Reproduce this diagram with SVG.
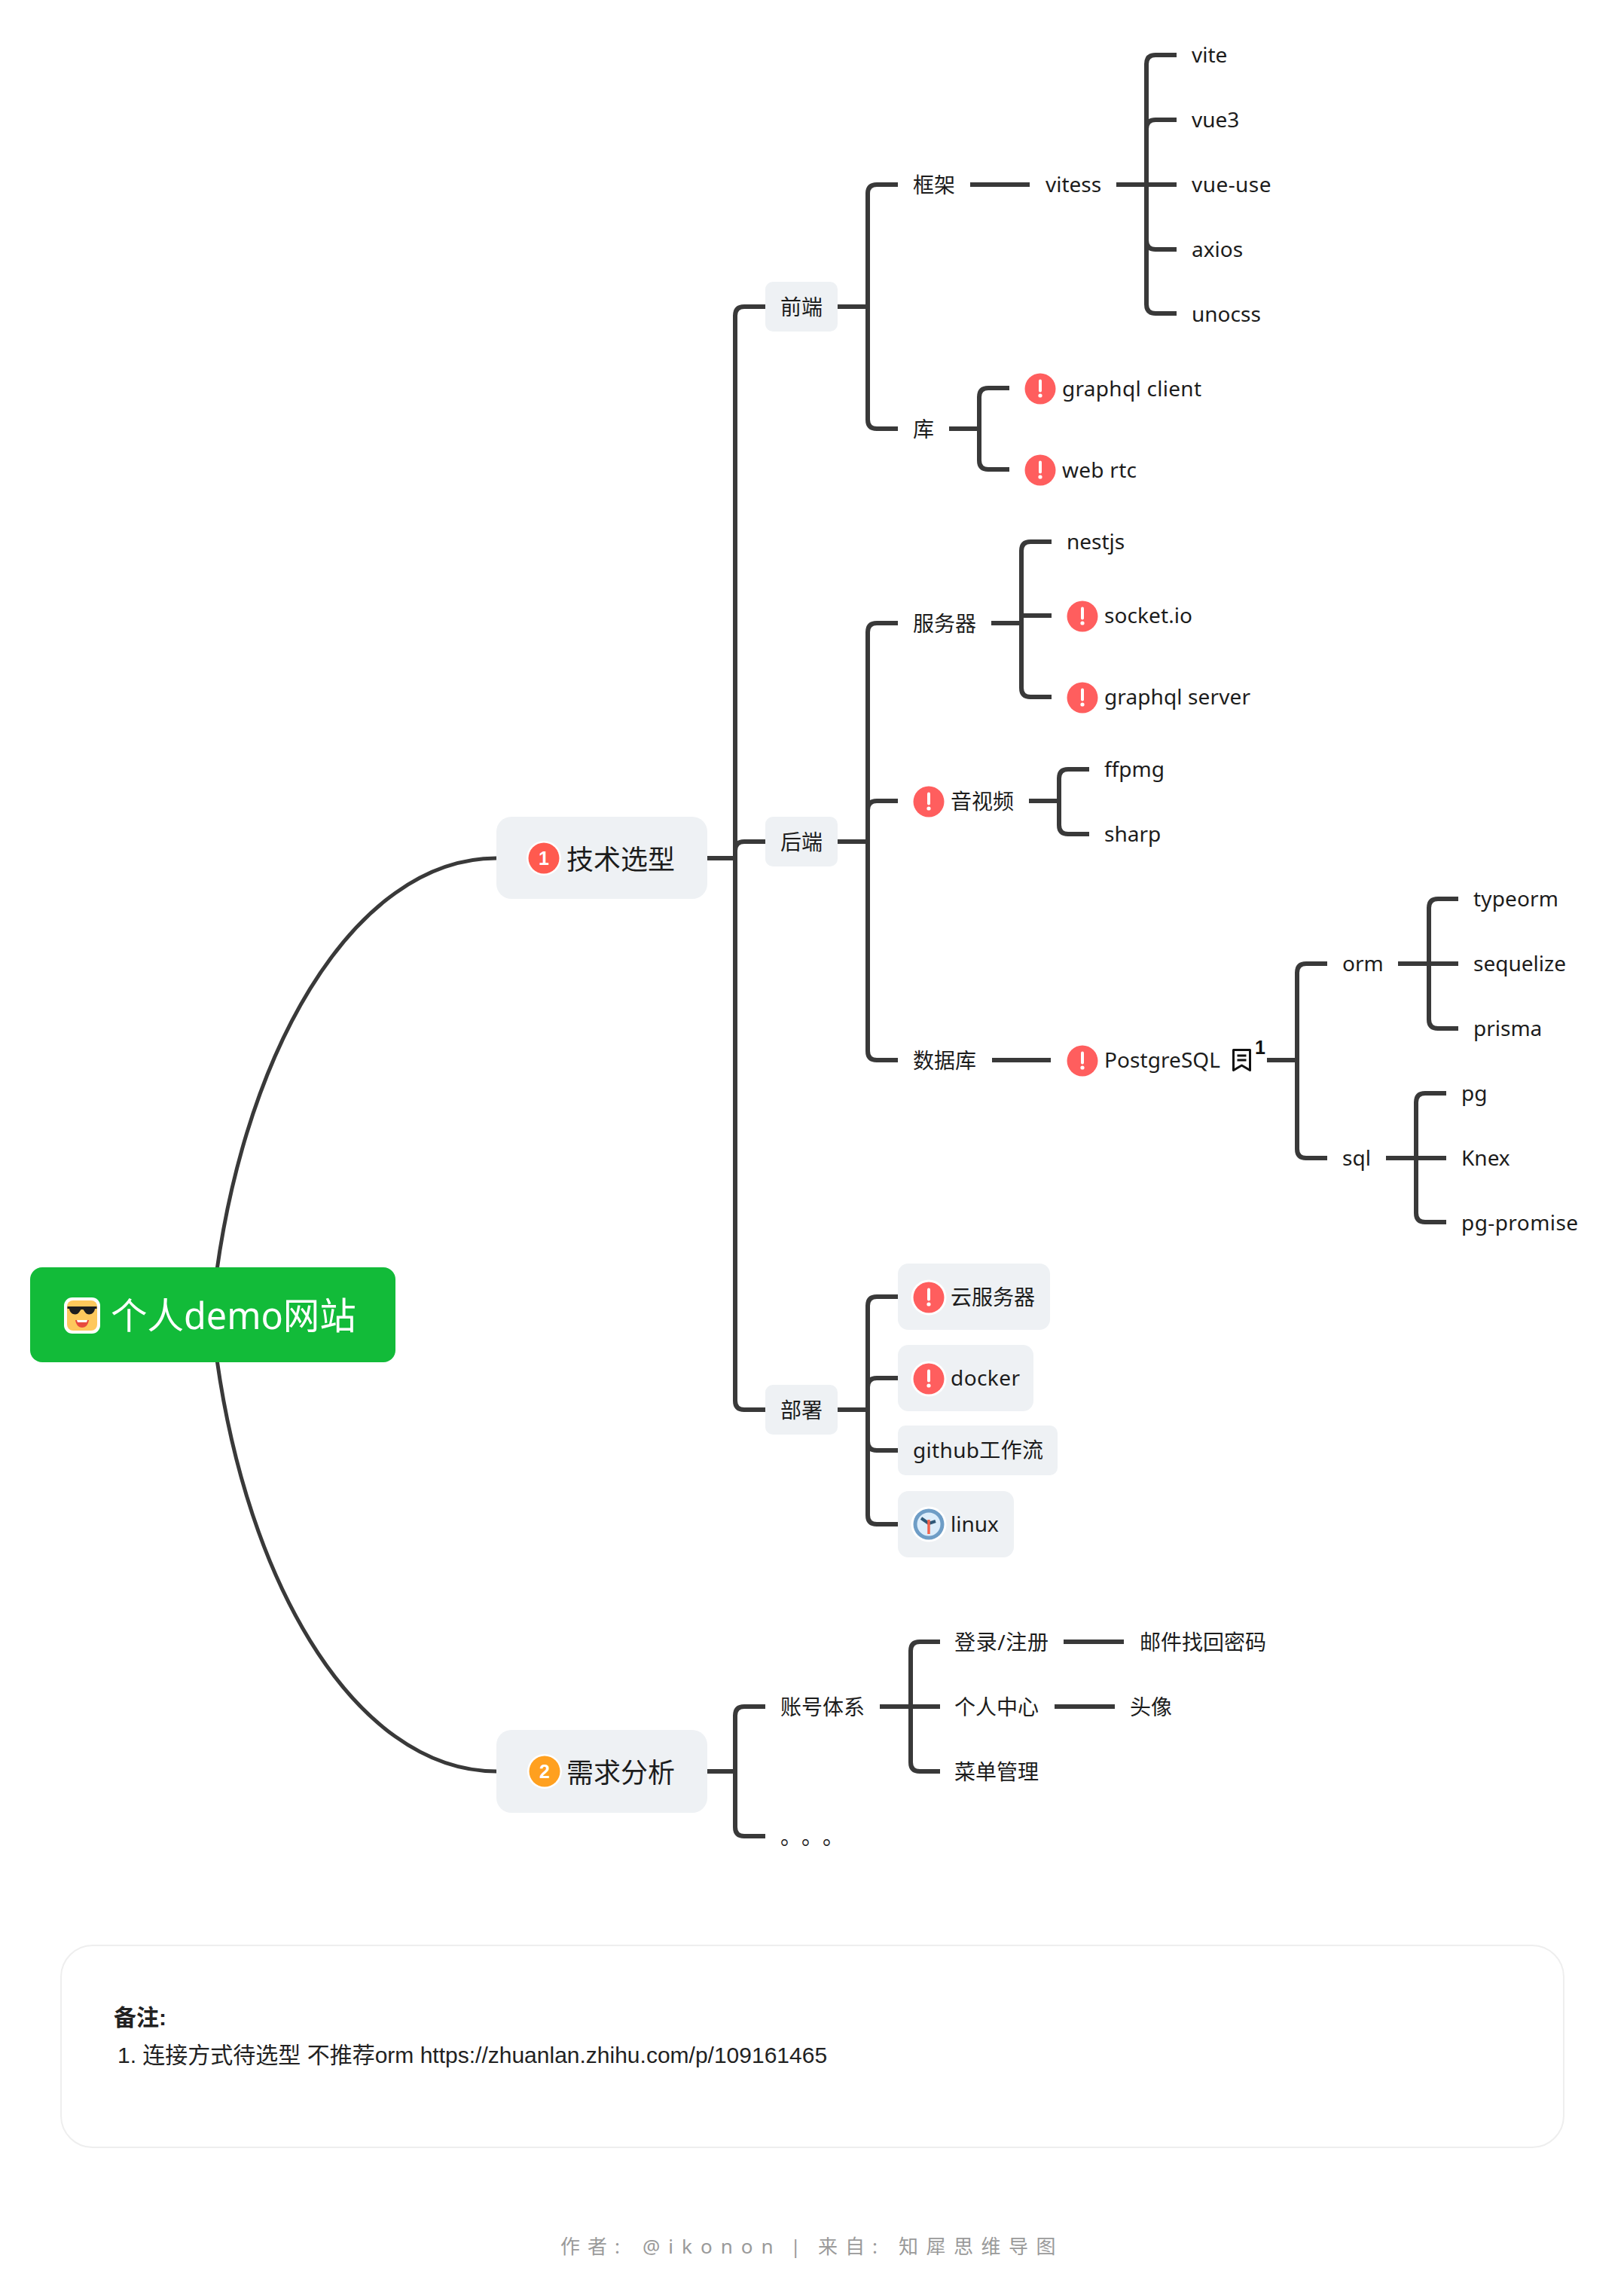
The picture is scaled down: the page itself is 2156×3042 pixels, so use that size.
<svg xmlns="http://www.w3.org/2000/svg" xmlns:xlink="http://www.w3.org/1999/xlink" width="2156" height="3042" viewBox="0 0 2156 3042">
<style>
.c{fill:none;stroke:#393939;stroke-width:6}
.r{stroke-width:5}
text{font-family:"Noto Sans","Noto Sans CJK SC",sans-serif;fill:#1c1c1c;font-size:28px}
.b{fill:#eef1f4}
.l1{font-size:36px}
.n{font-family:"Liberation Sans","Noto Sans CJK SC",sans-serif;font-size:30px;fill:#222}
</style>
<defs>
<g id="warn"><circle r="20.5" fill="#ff5e5e"/><rect x="-2" y="-12.5" width="4" height="17" rx="2" fill="#fff"/><circle cy="9" r="2.6" fill="#fff"/></g>
<g id="warnb"><circle r="23.5" fill="#fff"/><circle r="20.5" fill="#ff5e5e"/><rect x="-2" y="-12.5" width="4" height="17" rx="2" fill="#fff"/><circle cy="9" r="2.6" fill="#fff"/></g>
</defs>
<rect width="2156" height="3042" fill="#fff"/>
<g id="connectors">
<path class="c r" d="M281,1745C314,1400 470,1139 659,1139M281,1745C314,2090 470,2351 659,2351"/>
<path class="c" d="M939,1139H976M976,1139V419Q976,407 988,407H1016M976,1139V1129Q976,1117 988,1117H1016M976,1139V1859Q976,1871 988,1871H1016"/>
<path class="c" d="M1112,407H1152M1152,407V257Q1152,245 1164,245H1192M1152,407V557Q1152,569 1164,569H1192"/>
<path class="c" d="M1288,245H1367M1482,245H1562M1522,245V85Q1522,73 1534,73H1562M1522,245V171Q1522,159 1534,159H1562M1522,245V319Q1522,331 1534,331H1562M1522,245V404Q1522,416 1534,416H1562"/>
<path class="c" d="M1260,569H1300M1300,569V527Q1300,515 1312,515H1340M1300,569V611Q1300,623 1312,623H1340"/>
<path class="c" d="M1112,1117H1152M1152,1117V839Q1152,827 1164,827H1192M1152,1117V1075Q1152,1063 1164,1063H1192M1152,1117V1395Q1152,1407 1164,1407H1192"/>
<path class="c" d="M1316,827H1356M1356,827V731Q1356,719 1368,719H1396M1356,817H1396M1356,827V913Q1356,925 1368,925H1396"/>
<path class="c" d="M1366,1063H1406M1406,1063V1033Q1406,1021 1418,1021H1446M1406,1063V1095Q1406,1107 1418,1107H1446"/>
<path class="c" d="M1317,1407H1395M1682,1407H1722M1722,1407V1291Q1722,1279 1734,1279H1762M1722,1407V1525Q1722,1537 1734,1537H1762"/>
<path class="c" d="M1856,1279H1936M1897,1279V1205Q1897,1193 1909,1193H1936M1897,1279V1353Q1897,1365 1909,1365H1936"/>
<path class="c" d="M1840,1537H1920M1880,1537V1463Q1880,1451 1892,1451H1920M1880,1537V1610Q1880,1622 1892,1622H1920"/>
<path class="c" d="M1112,1871H1152M1152,1871V1733Q1152,1721 1164,1721H1192M1152,1871V1841Q1152,1829 1164,1829H1192M1152,1871V1913Q1152,1925 1164,1925H1192M1152,1871V2011Q1152,2023 1164,2023H1192"/>
<path class="c" d="M939,2351H976M976,2351V2277Q976,2265 988,2265H1016M976,2351V2425Q976,2437 988,2437H1016"/>
<path class="c" d="M1168,2265H1248M1209,2265V2191Q1209,2179 1221,2179H1248M1209,2265V2339Q1209,2351 1221,2351H1248"/>
<path class="c" d="M1412,2179H1492M1400,2265H1480"/>
</g>
<g id="root">
<rect x="40" y="1682" width="485" height="126" rx="16" fill="#12bb39"/>
<g id="root-emoji">
<rect x="85" y="1722" width="48" height="48" rx="11" fill="#fff"/>
<rect x="89" y="1726" width="40" height="40" rx="8" fill="#fec85c"/>
<path d="M89.500,1734H128.500V1737H126C125,1745 116,1747 112.500,1741L110.500,1738H107.500L105.500,1741C102,1747 93,1745 92,1737H89.500Z" fill="#1d1d1f"/>
<path d="M100,1752H118C117,1759 113,1762 109,1762C105,1762 101,1759 100,1752Z" fill="#e84a3e"/>
<path d="M102,1752H116L115,1755H103Z" fill="#fff"/>
</g>
<text x="147" y="1764" style="font-size:48.500px;fill:#fff">个人demo网站</text>
</g>
<g id="node-tech">
<rect class="b" x="659" y="1084" width="280" height="109" rx="20"/>
<circle cx="722" cy="1139" r="23" fill="#fff"/><circle cx="722" cy="1139" r="20.500" fill="#ff5a4f"/>
<text x="722" y="1148" text-anchor="middle" style="font-family:'Liberation Sans',sans-serif;font-weight:700;font-size:25px;fill:#fff">1</text>
<text class="l1" x="752" y="1154">技术选型</text>
</g>
<g id="node-req">
<rect class="b" x="659" y="2296" width="280" height="110" rx="20"/>
<circle cx="723" cy="2351" r="23" fill="#fff"/><circle cx="723" cy="2351" r="20.500" fill="#ffa01f"/>
<text x="723" y="2360" text-anchor="middle" style="font-family:'Liberation Sans',sans-serif;font-weight:700;font-size:25px;fill:#fff">2</text>
<text class="l1" x="752" y="2366">需求分析</text>
</g>
<g id="node-fe"><rect class="b" x="1016" y="374" width="96" height="66" rx="10"/><text x="1036" y="418">前端</text></g>
<g id="node-be"><rect class="b" x="1016" y="1084" width="96" height="66" rx="10"/><text x="1036" y="1128">后端</text></g>
<g id="node-deploy"><rect class="b" x="1016" y="1838" width="96" height="66" rx="10"/><text x="1036" y="1882">部署</text></g>
<g id="node-framework"><text x="1212" y="256">框架</text></g>
<g id="node-vitess"><text x="1388" y="255">vitess</text></g>
<g id="node-vite"><text x="1582" y="83">vite</text></g>
<g id="node-vue3"><text x="1582" y="169">vue3</text></g>
<g id="node-vueuse"><text x="1582" y="255" textLength="105.500">vue-use</text></g>
<g id="node-axios"><text x="1582" y="341">axios</text></g>
<g id="node-unocss"><text x="1582" y="427">unocss</text></g>
<g id="node-lib"><text x="1212" y="580">库</text></g>
<g id="node-gqlc"><use href="#warn" x="1381" y="516"/><text x="1410" y="526" textLength="185">graphql client</text></g>
<g id="node-webrtc"><use href="#warn" x="1381" y="624"/><text x="1410" y="634" textLength="99">web rtc</text></g>
<g id="node-server"><text x="1212" y="838">服务器</text></g>
<g id="node-nestjs"><text x="1416" y="729">nestjs</text></g>
<g id="node-socket"><use href="#warn" x="1437" y="818"/><text x="1466" y="827" textLength="117">socket.io</text></g>
<g id="node-gqls"><use href="#warn" x="1437" y="926"/><text x="1466" y="935" textLength="194">graphql server</text></g>
<g id="node-av"><use href="#warn" x="1233" y="1064"/><text x="1262" y="1074">音视频</text></g>
<g id="node-ffpmg"><text x="1466" y="1031">ffpmg</text></g>
<g id="node-sharp"><text x="1466" y="1117">sharp</text></g>
<g id="node-db"><text x="1212" y="1418">数据库</text></g>
<g id="node-pg"><use href="#warn" x="1437" y="1408"/><text x="1466" y="1417" textLength="154">PostgreSQL</text>
<path d="M1637.500,1393.500H1659.500V1420.500L1648.500,1414L1637.500,1420.500Z" fill="none" stroke="#111" stroke-width="3" stroke-linejoin="round"/>
<path d="M1642.500,1401H1654.500M1642.500,1407H1654.500" fill="none" stroke="#111" stroke-width="3"/>
<text x="1666" y="1399" style="font-family:'Liberation Sans',sans-serif;font-size:25px;font-weight:700;fill:#111">1</text></g>
<g id="node-orm"><text x="1782" y="1289">orm</text></g>
<g id="node-sql"><text x="1782" y="1547">sql</text></g>
<g id="node-typeorm"><text x="1956" y="1203" textLength="113">typeorm</text></g>
<g id="node-sequelize"><text x="1956" y="1289">sequelize</text></g>
<g id="node-prisma"><text x="1956" y="1375">prisma</text></g>
<g id="node-pglib"><text x="1940" y="1461">pg</text></g>
<g id="node-knex"><text x="1940" y="1547">Knex</text></g>
<g id="node-pgp"><text x="1940" y="1633" textLength="155">pg-promise</text></g>
<g id="node-cloud"><rect class="b" x="1192" y="1677" width="202" height="88" rx="14"/><use href="#warnb" x="1233" y="1722"/><text x="1262" y="1732">云服务器</text></g>
<g id="node-docker"><rect class="b" x="1192" y="1785" width="180" height="88" rx="14"/><use href="#warnb" x="1233" y="1830"/><text x="1262" y="1839" textLength="92">docker</text></g>
<g id="node-github"><rect class="b" x="1192" y="1892" width="212" height="66" rx="10"/><text x="1212" y="1935" textLength="173">github工作流</text></g>
<g id="node-linux"><rect class="b" x="1192" y="1979" width="154" height="88" rx="14"/>
<circle cx="1233" cy="2023" r="23.500" fill="#fff"/><circle cx="1233" cy="2023" r="20.500" fill="#6e9dc6"/><circle cx="1233" cy="2023" r="15.500" fill="#dcedfb"/>
<path d="M1233,2022L1223,2015M1233,2022L1242,2019" stroke="#2f5878" stroke-width="4" fill="none"/>
<path d="M1233,2017V2036" stroke="#f4624c" stroke-width="3.500" fill="none"/>
<text x="1262" y="2033">linux</text></g>
<g id="node-account"><text x="1036" y="2276">账号体系</text></g>
<g id="node-more"><text x="1036 1064 1092" y="2448">。。。</text></g>
<g id="node-login"><text x="1267" y="2190" textLength="125">登录/注册</text></g>
<g id="node-mail"><text x="1513" y="2190">邮件找回密码</text></g>
<g id="node-center"><text x="1267" y="2276">个人中心</text></g>
<g id="node-avatar"><text x="1500" y="2276">头像</text></g>
<g id="node-menu"><text x="1267" y="2362">菜单管理</text></g>
<g id="notes">
<rect x="81" y="2582" width="1995" height="268" rx="42" fill="#fff" stroke="#eeeeee" stroke-width="2"/>
<text class="n" x="151" y="2688" style="font-weight:700">备注:</text>
<text class="n" x="156" y="2738">1. 连接方式待选型 不推荐orm https://zhuanlan.zhihu.com/p/109161465</text>
</g>
<g id="footer"><text y="2991" style="font-size:26px;letter-spacing:10px;fill:#9a9a9a"><tspan x="744">作者:</tspan> <tspan x="853" style="letter-spacing:11px">@ikonon</tspan> <tspan x="1049">|</tspan> <tspan x="1086">来自:</tspan> <tspan x="1193" style="letter-spacing:10.500px">知犀思维导图</tspan></text></g>
</svg>
